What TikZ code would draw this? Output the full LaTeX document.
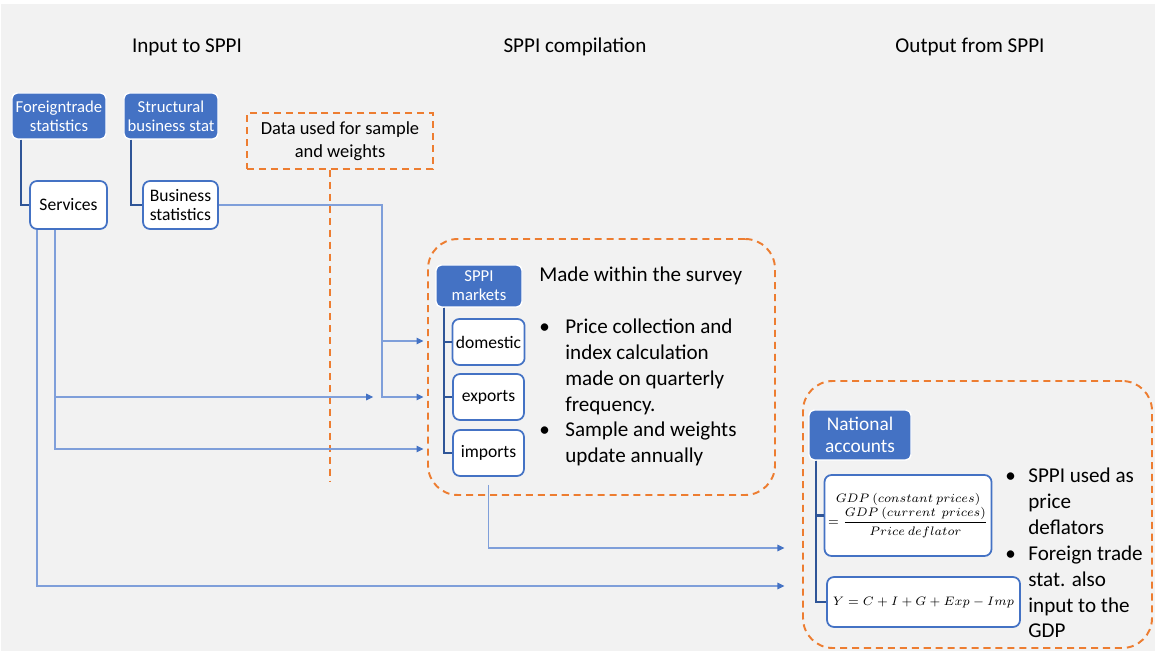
\documentclass[tikz,border=0pt]{standalone}
\usepackage{fontspec}
\setmainfont{Carlito}
\usepackage{amsmath}
\usetikzlibrary{arrows.meta,positioning,calc}
\definecolor{canvas}{HTML}{F2F2F2}
\definecolor{accent}{HTML}{4472C4}
\definecolor{treeblue}{HTML}{2F5597}
\definecolor{linkblue}{HTML}{7F9FDA}
\definecolor{dashorange}{HTML}{ED7D31}
\tikzset{
  bluebox/.style={draw=white, line width=0.8pt, rounded corners=3pt, fill=accent, text=white, align=center, inner sep=2pt, font=\fontsize{9.5}{10.8}\selectfont},
  whitebox/.style={draw=accent, line width=1pt, rounded corners=4pt, fill=white, align=center, inner sep=2pt, font=\fontsize{10}{10.5}\selectfont},
  region/.style={draw=dashorange, dash pattern=on 4pt off 2.8pt, line width=1.1pt, rounded corners=17pt},
  dashbox/.style={draw=dashorange, dash pattern=on 4pt off 2.8pt, line width=1.1pt, align=center, font=\fontsize{10.5}{13}\selectfont},
  dashline/.style={draw=dashorange, dash pattern=on 4pt off 2.8pt, line width=1.1pt},
  title/.style={font=\fontsize{12}{14}\selectfont, text=black},
  notes/.style={font=\fontsize{12}{14.7}\selectfont, inner sep=0pt, anchor=base west},
  tree/.style={draw=treeblue, line width=1.2pt},
  link/.style={draw=linkblue, line width=0.6pt},
  linkarrow/.style={link, -{Triangle[length=1.4mm,width=1.3mm,color=accent]}, shorten >=2pt}
}

\begin{document}
\begin{tikzpicture}
\fill[canvas] (0.02,0) rectangle (23.1,12.94);
\useasboundingbox (0,0) rectangle (23.1,13.02);

% column titles
\node[title] (tin) at (3.74,12.08) {Input to SPPI};
\node[title] (tcomp) at (11.5,12.08) {SPPI compilation};
\node[title] (tout) at (19.4,12.08) {Output from SPPI};

% input sources
\node[bluebox, minimum width=18.8mm, minimum height=9.2mm] (ft) at (1.18,10.70) {Foreigntrade\\statistics};
\node[bluebox, minimum width=18.4mm, minimum height=9.2mm] (sbs) at (3.42,10.70) {Structural\\business stat};
\node[whitebox, minimum width=15.4mm, minimum height=9.6mm] (serv) at (1.37,8.92) {Services};
\node[whitebox, minimum width=15mm, minimum height=9.6mm, align=left] (bus) at (3.61,8.92) {Business\\statistics};
\draw[tree] ([xshift=2mm]ft.south west) |- (serv.west);
\draw[tree] ([xshift=1.6mm]sbs.south west) |- (bus.west);

\node[dashbox, minimum width=37.2mm, minimum height=11.2mm] (data) at (6.8,10.2) {Data used for sample\\and weights};
\draw[dashline] ([xshift=-2mm]data.south) -- ++(0,-6.22);

% SPPI compilation
\node[region, minimum width=69.4mm, minimum height=51.2mm] (sppi) at (12.03,5.68) {};
\node[bluebox, minimum width=17.2mm, minimum height=8.4mm] (mk) at (9.58,7.30) {SPPI\\markets};
\node[whitebox, minimum width=14.2mm, minimum height=9.2mm] (dom) at (9.77,6.18) {domestic};
\node[whitebox, minimum width=14.2mm, minimum height=9.2mm] (exp) at (9.77,5.08) {exports};
\node[whitebox, minimum width=14.2mm, minimum height=9.2mm] (imp) at (9.77,3.96) {imports};
\draw[tree] ([xshift=1.8mm]mk.south west) |- (dom.west);
\draw[tree] ([xshift=1.8mm]mk.south west) |- (exp.west);
\draw[tree] ([xshift=1.8mm]mk.south west) |- (imp.west);
\node[notes] (survey) at (10.78,7.38) {\begin{tabular}[t]{@{}p{5.2mm}@{}l@{}}
\multicolumn{2}{@{}l@{}}{Made within the survey}\\
 & \\
\textbullet & Price collection and\\
 & index calculation\\
 & made on quarterly\\
 & frequency.\\
\textbullet & Sample and weights\\
 & update annually
\end{tabular}};

% national accounts
\node[region, minimum width=69.8mm, minimum height=53.4mm] (nareg) at (19.55,2.73) {};
\node[bluebox, minimum width=20.4mm, minimum height=10mm, font=\fontsize{11}{12.5}\selectfont] (na) at (17.2,4.32) {National\\accounts};
\node[whitebox, minimum width=32mm, minimum height=16.2mm, font=\fontsize{7.2}{9}\selectfont] (gdp) at (18.16,2.71) {$GDP\ (constant\ prices)$\\$=\dfrac{GDP\ (current\ \ prices)}{Price\ deflator}$};
\node[whitebox, minimum width=38.6mm, minimum height=10mm, font=\fontsize{7.5}{10}\selectfont] (gdpy) at (18.47,0.98) {$Y = C + I + G + Exp - Imp$};
\draw[tree] ([xshift=1.6mm]na.south west) |- (gdp.west);
\draw[tree] ([xshift=1.6mm]na.south west) |- (gdpy.west);
\node[notes] (nanotes) at (20.1,3.36) {\begin{tabular}[t]{@{}p{4.6mm}@{}l@{}}
\textbullet & SPPI used as\\
 & price\\
 & deflators\\
\textbullet & Foreign trade\\
 & stat. also\\
 & input to the\\
 & GDP
\end{tabular}};

% connectors
\coordinate (split) at (7.64,6.2);
\coordinate (naIn) at (15.76,2.06);
\coordinate (naIn2) at (15.76,1.30);
\draw[link] (bus.east) -| (split);
\draw[linkarrow] (split) -- (split -| sppi.west);
\draw[linkarrow] (split) |- (exp.west -| sppi.west);
\draw[linkarrow, shorten >=5pt] ([xshift=-2.7mm]serv.south) |- (exp.west -| split);
\draw[linkarrow] ([xshift=-2.7mm]serv.south) |- ([yshift=0.08cm]imp.west -| sppi.west);
\draw[linkarrow] ([xshift=-6.3mm]serv.south) |- (naIn2);
\draw[linkarrow] ([yshift=-0.16cm]imp.south) |- (naIn);
\end{tikzpicture}
\end{document}
